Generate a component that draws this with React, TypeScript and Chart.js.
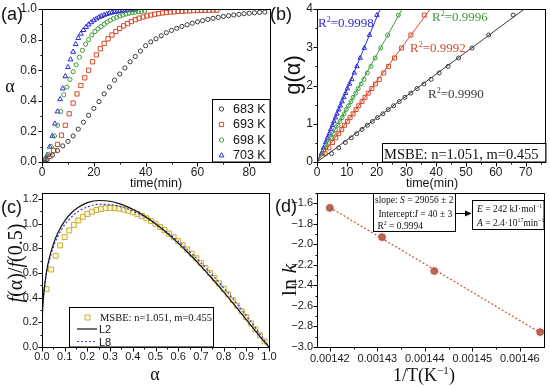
import React, { useEffect, useRef } from 'react';
import { Chart, registerables } from 'chart.js';
Chart.register(...registerables);

const W = 550;
const H = 386;
const SANS = '"Liberation Sans", Arial, sans-serif';
const SERIF = '"Liberation Serif", "Times New Roman", serif';

// ---------- Panel (a): alpha vs time ----------
const a683T = [0,2,4,6,8,10,12,14,16,18,20,22,24,26,28,30,32,34,36,38,40,42,44,46,48,50,52,54,56,58,60,62,64,66,68,70,72,74,76,78,80,82,84,86];
const a683 = [0,0.015,0.045,0.075,0.105,0.135,0.17,0.215,0.26,0.305,0.35,0.395,0.445,0.49,0.535,0.575,0.615,0.655,0.69,0.725,0.76,0.785,0.805,0.825,0.845,0.86,0.874,0.886,0.897,0.907,0.916,0.924,0.932,0.939,0.945,0.951,0.956,0.961,0.965,0.969,0.972,0.975,0.978,0.98];
const a693T = [0,1.5,3,4.5,6,7.5,9,10.5,12,13.5,15,16.5,18,19.5,21,22.5,24,25.5,27,28.5,30,31.5,33,34.5,36,37.5,39,40.5,42,43.5,45,46.5,48,49.5,51,52.5,54,55.5,57,58.5,60,61.5,63,64.5,66,67.5];
const a693 = [0,0.012,0.037,0.075,0.115,0.175,0.24,0.315,0.385,0.445,0.5,0.55,0.6,0.655,0.7,0.74,0.775,0.805,0.83,0.853,0.873,0.89,0.905,0.918,0.93,0.94,0.948,0.955,0.961,0.966,0.97,0.974,0.977,0.98,0.982,0.984,0.986,0.987,0.988,0.989,0.99,0.991,0.992,0.992,0.993,0.993];
const a698T = [0,1.2,2.4,3.6,4.8,6,7.2,8.4,9.6,10.8,12,13.2,14.4,15.6,16.8,18,19.2,20.4,21.6,22.8,24,25.2,26.4,27.6,28.8,30,31.2,32.4,33.6,34.8,36,37.2,38.4,39.6];
const a698 = [0,0.02,0.05,0.1,0.17,0.24,0.33,0.44,0.49,0.54,0.59,0.635,0.685,0.73,0.77,0.8,0.83,0.852,0.87,0.885,0.9,0.915,0.927,0.937,0.946,0.954,0.961,0.967,0.972,0.976,0.979,0.982,0.985,0.987];
const a703T = [0,1,2,3,4,5,6,7,8,9,10,11,12,13,14,15,16,17,18,19,20,21,22,23,24,25,26,27,28,29,30,31,32,33,34,35,36];
const a703 = [0,0.015,0.045,0.1,0.17,0.25,0.33,0.41,0.48,0.56,0.62,0.67,0.72,0.77,0.81,0.838,0.862,0.882,0.898,0.913,0.926,0.937,0.946,0.954,0.961,0.967,0.972,0.976,0.98,0.983,0.986,0.988,0.99,0.992,0.993,0.994,0.995];
const aLegend = ['683 K', '693 K', '698 K', '703 K'];

// ---------- Panel (b): g(alpha) vs time ----------
const bG = [0.22,0.37,0.51,0.63,0.74,0.85,0.96,1.06,1.16,1.26,1.37,1.47,1.58,1.69,1.8,1.92,2.04,2.16,2.33,2.5,2.72,2.98,3.32,3.84];
const b683T = [4.9,7.3,9.5,11.5,13.3,15.1,16.9,18.6,20.3,22.1,23.9,25.7,27.6,29.5,31.5,33.6,35.9,38.3,41,44,47.5,52,57.6,65.8];
const b693T = [2.7,4.0,5.2,6.3,7.3,8.3,9.2,10.2,11.1,12.1,13.1,14.0,15.1,16.1,17.2,18.4,19.6,20.9,22.4,24.0,26.0,28.4,31.5,36.0];
const b698T = [2.0,3.0,3.9,4.7,5.5,6.2,7.0,7.7,8.4,9.1,9.8,10.6,11.4,12.1,13.0,13.8,14.8,15.8,16.9,18.1,19.5,21.4,23.7,27.3];
const b703T = [1.5,2.2,2.9,3.5,4.1,4.6,5.2,5.7,6.2,6.7,7.3,7.8,8.4,9.0,9.6,10.2,10.9,11.7,12.5,13.4,14.5,15.9,17.6,20.1];
const bFitEndT = [69.6, 38.0, 28.6, 21.2];
const bR2 = ['0.9990', '0.9992', '0.9996', '0.9998'];

// ---------- Panel (c): master plot ----------
const cAlpha = [0.02,0.04,0.06,0.08,0.10,0.12,0.14,0.16,0.18,0.20,0.22,0.24,0.26,0.28,0.30,0.32,0.34,0.36,0.38,0.40,0.42,0.44,0.46,0.48,0.50,0.52,0.54,0.56,0.58,0.60,0.62,0.64,0.66,0.68,0.70,0.72,0.74,0.76,0.78,0.80,0.82,0.84,0.86,0.88,0.90,0.92,0.94,0.96,0.98];
const cMSBE = [0.469,0.629,0.740,0.825,0.892,0.946,0.991,1.027,1.057,1.080,1.098,1.112,1.121,1.127,1.129,1.128,1.123,1.116,1.107,1.094,1.080,1.063,1.044,1.023,1.000,0.975,0.949,0.921,0.891,0.859,0.826,0.792,0.757,0.720,0.681,0.642,0.601,0.559,0.517,0.473,0.428,0.382,0.336,0.289,0.241,0.192,0.144,0.095,0.046];
const cLineA = [0,0.002,0.005,0.01,0.02,0.03,0.05,0.07,0.10,0.13,0.16,0.20,0.25,0.30,0.35,0.40,0.45,0.50,0.55,0.60,0.65,0.70,0.75,0.80,0.85,0.90,0.95,0.98,1.0];
const cL2 = [0,0.262,0.368,0.476,0.611,0.705,0.835,0.927,1.024,1.090,1.135,1.172,1.189,1.183,1.158,1.118,1.065,1.0,0.926,0.843,0.753,0.657,0.554,0.447,0.336,0.222,0.108,0.041,0];
const cL8 = [0,0.263,0.367,0.470,0.599,0.688,0.812,0.899,0.992,1.055,1.100,1.137,1.158,1.156,1.137,1.103,1.057,1.0,0.933,0.858,0.774,0.684,0.586,0.481,0.371,0.254,0.131,0.054,0];

// ---------- Panel (d): Arrhenius ----------
const dInvT = [0.00142, 0.001431, 0.001442, 0.0014643];
const dLnK = [-1.645, -1.93, -2.26, -2.855];
const dFitX = [0.00142, 0.0014643];
const dFitY = [-1.64, -2.86];

const COL = ['#3a3a3a', '#d44a2a', '#3d9a3a', '#2b2bd8'];
const STY = ['circle', 'rect', 'circle', 'triangle'];

type Seg = { t: string; it?: boolean; sup?: boolean };

function drawRich(ctx: CanvasRenderingContext2D, segs: Seg[], x: number, y: number, size: number, family: string, color: string, align: string = 'left') {
  const fontOf = (s: Seg) => `${s.it ? 'italic ' : ''}${s.sup ? size * 0.62 : size}px ${family}`;
  let total = 0;
  const ws = segs.map((s) => { ctx.font = fontOf(s); const w = ctx.measureText(s.t).width; total += w; return w; });
  let cx = align === 'center' ? x - total / 2 : align === 'right' ? x - total : x;
  ctx.fillStyle = color;
  ctx.textAlign = 'left';
  ctx.textBaseline = 'alphabetic';
  segs.forEach((s, i) => {
    ctx.font = fontOf(s);
    ctx.fillText(s.t, cx, s.sup ? y - size * 0.4 : y);
    cx += ws[i];
  });
}

function drawRotated(ctx: CanvasRenderingContext2D, segs: Seg[], cx: number, cy: number, size: number, family: string, color: string) {
  ctx.save();
  ctx.translate(cx, cy);
  ctx.rotate(-Math.PI / 2);
  drawRich(ctx, segs, 0, size * 0.35, size, family, color, 'center');
  ctx.restore();
}

function marker(ctx: CanvasRenderingContext2D, style: string, x: number, y: number, r: number, color: string) {
  ctx.save();
  ctx.strokeStyle = color;
  ctx.lineWidth = 1;
  ctx.beginPath();
  if (style === 'circle') ctx.arc(x, y, r, 0, Math.PI * 2);
  else if (style === 'rect') { const s = r * Math.SQRT1_2; ctx.rect(x - s, y - s, 2 * s, 2 * s); }
  else { ctx.moveTo(x, y - r); ctx.lineTo(x + r * 0.866, y + r * 0.5); ctx.lineTo(x - r * 0.866, y + r * 0.5); ctx.closePath(); }
  ctx.stroke();
  ctx.restore();
}

type AxisCfg = {
  xMajor: number[]; xMinor: number[]; yMajor: number[]; yMinor: number[];
  xFmt: (v: number) => string; yFmt: (v: number) => string;
  font: string; xOff: number; yOff: number;
};

function drawAxes(chart: any, p: AxisCfg) {
  const ctx: CanvasRenderingContext2D = chart.ctx;
  const { left, right, top, bottom } = chart.chartArea;
  const xs = chart.scales.x;
  const ys = chart.scales.y;
  ctx.save();
  ctx.strokeStyle = '#000';
  ctx.lineWidth = 1;
  const L = Math.round(left) + 0.5, T = Math.round(top) + 0.5, R = Math.round(right) + 0.5, B = Math.round(bottom) + 0.5;
  ctx.strokeRect(L, T, R - L, B - T);
  ctx.beginPath();
  p.xMajor.forEach((v) => { const x = Math.round(xs.getPixelForValue(v)) + 0.5; ctx.moveTo(x, B); ctx.lineTo(x, B + 4); });
  p.xMinor.forEach((v) => { const x = Math.round(xs.getPixelForValue(v)) + 0.5; ctx.moveTo(x, B); ctx.lineTo(x, B + 2); });
  p.yMajor.forEach((v) => { const y = Math.round(ys.getPixelForValue(v)) + 0.5; ctx.moveTo(L, y); ctx.lineTo(L - 4, y); });
  p.yMinor.forEach((v) => { const y = Math.round(ys.getPixelForValue(v)) + 0.5; ctx.moveTo(L, y); ctx.lineTo(L - 2, y); });
  ctx.stroke();
  ctx.fillStyle = '#1a1a1a';
  ctx.font = p.font;
  ctx.textAlign = 'center';
  ctx.textBaseline = 'middle';
  p.xMajor.forEach((v) => ctx.fillText(p.xFmt(v), xs.getPixelForValue(v), bottom + p.xOff));
  ctx.textAlign = 'right';
  p.yMajor.forEach((v) => ctx.fillText(p.yFmt(v), left - p.yOff, ys.getPixelForValue(v)));
  ctx.restore();
}

function pts(xs: number[], ys: number[]) {
  return xs.map((x, i) => ({ x, y: ys[i] }));
}

function makeChart(canvas: HTMLCanvasElement, area: { l: number; t: number; r: number; b: number }, xr: number[], yr: number[], datasets: any[], draw: (chart: any) => void) {
  return new Chart(canvas, {
    type: 'scatter',
    data: { datasets },
    options: {
      responsive: false,
      animation: false,
      events: [],
      devicePixelRatio: 1,
      layout: { padding: { left: area.l, top: area.t, right: W - area.r, bottom: H - area.b } },
      plugins: { legend: { display: false }, tooltip: { enabled: false } },
      scales: {
        x: { type: 'linear', display: false, min: xr[0], max: xr[1] },
        y: { type: 'linear', display: false, min: yr[0], max: yr[1] },
      },
    } as any,
    plugins: [{ id: 'deco', afterDraw: (chart: any) => draw(chart) }],
  });
}

const fix1 = (v: number) => v.toFixed(1);
const range = (a: number, b: number, s: number) => { const r: number[] = []; for (let v = a; v <= b + 1e-9; v += s) r.push(+v.toFixed(8)); return r; };

export default function App() {
  const ra = useRef<HTMLCanvasElement>(null);
  const rb = useRef<HTMLCanvasElement>(null);
  const rc = useRef<HTMLCanvasElement>(null);
  const rd = useRef<HTMLCanvasElement>(null);

  useEffect(() => {
    const charts: Chart[] = [];

    // ---- (a)
    const aSeries = [[a683T, a683], [a693T, a693], [a698T, a698], [a703T, a703]];
    const aRad = [2.1, 3.0, 2.1, 2.8];
    charts.push(makeChart(ra.current!, { l: 42, t: 9, r: 270, b: 162 }, [0, 88], [0, 1],
      aSeries.map((s, i) => ({
        data: pts(s[0], s[1]), pointStyle: STY[i], pointRadius: aRad[i], borderWidth: 1,
        borderColor: COL[i], backgroundColor: 'transparent', pointBackgroundColor: 'transparent', showLine: false,
      })),
      (chart) => {
        const ctx = chart.ctx;
        drawAxes(chart, {
          xMajor: [0, 20, 40, 60, 80], xMinor: [10, 30, 50, 70], yMajor: range(0, 1, 0.2), yMinor: range(0.1, 0.9, 0.2),
          xFmt: (v) => String(v), yFmt: fix1, font: `12px ${SANS}`, xOff: 11, yOff: 5,
        });
        // legend
        ctx.save();
        ctx.fillStyle = '#fff'; ctx.strokeStyle = '#000'; ctx.lineWidth = 1;
        ctx.fillRect(212.5, 99.5, 57, 62); ctx.strokeRect(212.5, 99.5, 57.5, 62.5);
        const rows = [109, 124.5, 140, 155.5];
        aLegend.forEach((t, i) => {
          marker(ctx, STY[i], 221.5, rows[i], aRad[i], COL[i]);
          ctx.fillStyle = '#111'; ctx.font = `12.5px ${SANS}`; ctx.textAlign = 'left'; ctx.textBaseline = 'middle';
          ctx.fillText(t, 233, rows[i] + 0.5);
        });
        ctx.restore();
        drawRich(ctx, [{ t: 'time(min)' }], 156, 187, 12.5, SANS, '#111', 'center');
        drawRich(ctx, [{ t: 'α' }], 10, 92, 18, SERIF, '#111', 'center');
        drawRich(ctx, [{ t: '(a)' }], 1, 20, 18, SANS, '#111', 'left');
      }));

    // ---- (b)
    const bSeries = [b683T, b693T, b698T, b703T];
    const bRad = [2.0, 2.8, 2.0, 2.6];
    const bData: any[] = [];
    bSeries.forEach((ts, i) => {
      bData.push({ data: pts([0, bFitEndT[i]], [0, 4]), showLine: true, borderColor: COL[i], borderWidth: 1, pointRadius: 0 });
      bData.push({ data: pts(ts, bG), showLine: false, pointStyle: STY[i], pointRadius: bRad[i], borderWidth: 1, borderColor: COL[i], backgroundColor: 'transparent', pointBackgroundColor: 'transparent' });
    });
    charts.push(makeChart(rb.current!, { l: 317, t: 9, r: 546, b: 162 }, [0, 76.5], [0, 4], bData,
      (chart) => {
        const ctx = chart.ctx;
        drawAxes(chart, {
          xMajor: range(0, 70, 10), xMinor: range(5, 75, 10), yMajor: [0, 1, 2, 3, 4], yMinor: [0.5, 1.5, 2.5, 3.5],
          xFmt: (v) => String(v), yFmt: (v) => String(v), font: `12px ${SANS}`, xOff: 11, yOff: 4,
        });
        const r2pos = [[428, 98], [410, 52], [432, 21], [318, 27]];
        r2pos.forEach((p, i) => {
          drawRich(ctx, [{ t: 'R' }, { t: '2', sup: true }, { t: '=' + bR2[i] }], p[0], p[1], 13, SERIF, COL[i], 'left');
        });
        ctx.save();
        ctx.fillStyle = '#fff'; ctx.fillRect(382.5, 143.5, 163, 18);
        ctx.strokeStyle = '#000'; ctx.lineWidth = 1; ctx.strokeRect(382.5, 143.5, 163.5, 18.5);
        ctx.restore();
        drawRich(ctx, [{ t: 'MSBE: n=1.051, m=0.455' }], 384, 158.5, 14.5, SERIF, '#111', 'left');
        drawRich(ctx, [{ t: 'time(min)' }], 432, 187, 12.5, SANS, '#111', 'center');
        drawRotated(ctx, [{ t: 'g(α)' }], 292, 75, 22, SANS, '#111');
        drawRich(ctx, [{ t: '(b)' }], 270, 20, 18, SANS, '#111', 'left');
      }));

    // ---- (c)
    charts.push(makeChart(rc.current!, { l: 42, t: 193, r: 269, b: 347 }, [0, 1], [0, 1.25], [
      { data: pts(cLineA, cL2), showLine: true, borderColor: '#111', borderWidth: 1.2, pointRadius: 0, cubicInterpolationMode: 'monotone' },
      { data: pts(cLineA, cL8), showLine: true, borderColor: '#3a3ae6', borderWidth: 1.2, borderDash: [2, 2], pointRadius: 0, cubicInterpolationMode: 'monotone' },
      { data: pts(cAlpha, cMSBE), showLine: false, pointStyle: 'rect', pointRadius: 3.5, borderWidth: 1, borderColor: '#c8b02c', backgroundColor: 'transparent', pointBackgroundColor: 'rgba(250,240,190,0.5)' },
    ], (chart) => {
      const ctx = chart.ctx;
      drawAxes(chart, {
        xMajor: range(0, 1, 0.1), xMinor: range(0.05, 0.95, 0.1), yMajor: range(0, 1.2, 0.2), yMinor: range(0.1, 1.1, 0.2),
        xFmt: fix1, yFmt: fix1, font: `11px ${SANS}`, xOff: 10, yOff: 4,
      });
      ctx.save();
      ctx.fillStyle = '#fff'; ctx.fillRect(69.5, 307.5, 144, 39);
      ctx.strokeStyle = '#000'; ctx.lineWidth = 1; ctx.strokeRect(69.5, 307.5, 144, 39.5);
      marker(ctx, 'rect', 87.5, 317.5, 3.5, '#c8b02c');
      ctx.strokeStyle = '#111'; ctx.lineWidth = 1.2; ctx.beginPath(); ctx.moveTo(77, 329); ctx.lineTo(97, 329); ctx.stroke();
      ctx.strokeStyle = '#3a3ae6'; ctx.setLineDash([2, 2]); ctx.beginPath(); ctx.moveTo(77, 341.5); ctx.lineTo(97, 341.5); ctx.stroke();
      ctx.restore();
      drawRich(ctx, [{ t: 'MSBE: n=1.051, m=0.455' }], 100, 321, 10.5, SERIF, '#111', 'left');
      drawRich(ctx, [{ t: 'L2' }], 99, 333, 11, SANS, '#111', 'left');
      drawRich(ctx, [{ t: 'L8' }], 99, 345.5, 11, SANS, '#111', 'left');
      drawRich(ctx, [{ t: 'α' }], 155, 380, 18, SERIF, '#111', 'center');
      drawRotated(ctx, [{ t: 'f', it: true }, { t: '(α)/' }, { t: 'f', it: true }, { t: '(0.5)' }], 15, 263, 20, SERIF, '#111');
      drawRich(ctx, [{ t: '(c)' }], 1, 213, 18, SANS, '#111', 'left');
    }));

    // ---- (d)
    charts.push(makeChart(rd.current!, { l: 317, t: 193, r: 544, b: 347 }, [0.0014173, 0.0014651], [-3.0, -1.5], [
      { data: pts(dFitX, dFitY), showLine: true, borderColor: '#c4552e', borderWidth: 1.2, borderDash: [2, 2], pointRadius: 0 },
      { data: pts(dInvT, dLnK), showLine: false, pointStyle: 'circle', pointRadius: 5.5, borderWidth: 0, backgroundColor: 'rgba(245,190,210,0.3)', pointBackgroundColor: 'rgba(245,190,210,0.3)' },
      { data: pts(dInvT, dLnK), showLine: false, pointStyle: 'circle', pointRadius: 3.3, borderWidth: 1, borderColor: '#6a2a0c', backgroundColor: '#a8441a', pointBackgroundColor: '#a8441a' },
    ], (chart) => {
      const ctx = chart.ctx;
      drawAxes(chart, {
        xMajor: [0.00142, 0.00143, 0.00144, 0.00145, 0.00146], xMinor: [0.001425, 0.001435, 0.001445, 0.001455],
        yMajor: range(-3.0, -1.6, 0.2), yMinor: range(-2.9, -1.5, 0.2),
        xFmt: (v) => v.toFixed(5), yFmt: (v) => v.toFixed(1).replace('-', '−'), font: `11px ${SANS}`, xOff: 11.5, yOff: 4,
      });
      ctx.save();
      ctx.fillStyle = '#fff'; ctx.strokeStyle = '#000'; ctx.lineWidth = 1;
      ctx.fillRect(373.5, 193.5, 82, 38); ctx.strokeRect(373.5, 193.5, 82, 38);
      ctx.fillRect(472.5, 200.5, 71.5, 29); ctx.strokeRect(472.5, 200.5, 71.5, 29);
      ctx.beginPath(); ctx.moveTo(456, 213.5); ctx.lineTo(467, 213.5); ctx.stroke();
      ctx.fillStyle = '#000'; ctx.beginPath(); ctx.moveTo(471.5, 213.5); ctx.lineTo(465, 210.5); ctx.lineTo(465, 216.5); ctx.closePath(); ctx.fill();
      ctx.restore();
      const fs = 9.5;
      drawRich(ctx, [{ t: 'slope: ' }, { t: 'S', it: true }, { t: ' = 29056 ± 2' }], 375, 203, fs, SERIF, '#111');
      drawRich(ctx, [{ t: ' Intercept:' }, { t: 'I', it: true }, { t: ' = 40 ± 3' }], 376, 216.5, fs, SERIF, '#111');
      drawRich(ctx, [{ t: ' R' }, { t: '2', sup: true }, { t: ' = 0.9994' }], 375, 229, fs, SERIF, '#111');
      drawRich(ctx, [{ t: 'E', it: true }, { t: ' = 242 kJ·mol' }, { t: '−1', sup: true }], 477, 211.5, fs, SERIF, '#111');
      drawRich(ctx, [{ t: 'A', it: true }, { t: ' = 2.4·10' }, { t: '17', sup: true }, { t: 'min' }, { t: '−1', sup: true }], 477, 225.5, fs, SERIF, '#111');
      drawRotated(ctx, [{ t: 'ln ' }, { t: 'k', it: true }], 288, 280, 22, SERIF, '#111');
      drawRich(ctx, [{ t: '1/T(K' }, { t: '−1', sup: true }, { t: ')' }], 424, 381, 18, SERIF, '#111', 'center');
      drawRich(ctx, [{ t: '(d)' }], 275, 212, 18, SANS, '#111', 'left');
    }));

    return () => charts.forEach((c) => c.destroy());
  }, []);

  const cs: React.CSSProperties = { position: 'absolute', left: 0, top: 0, width: W, height: H };
  return (
    <div style={{ position: 'fixed', left: 0, top: 0, width: W, height: H, background: '#fff', overflow: 'hidden' }}>
      <canvas ref={ra} width={W} height={H} style={cs} />
      <canvas ref={rb} width={W} height={H} style={cs} />
      <canvas ref={rc} width={W} height={H} style={cs} />
      <canvas ref={rd} width={W} height={H} style={cs} />
    </div>
  );
}
